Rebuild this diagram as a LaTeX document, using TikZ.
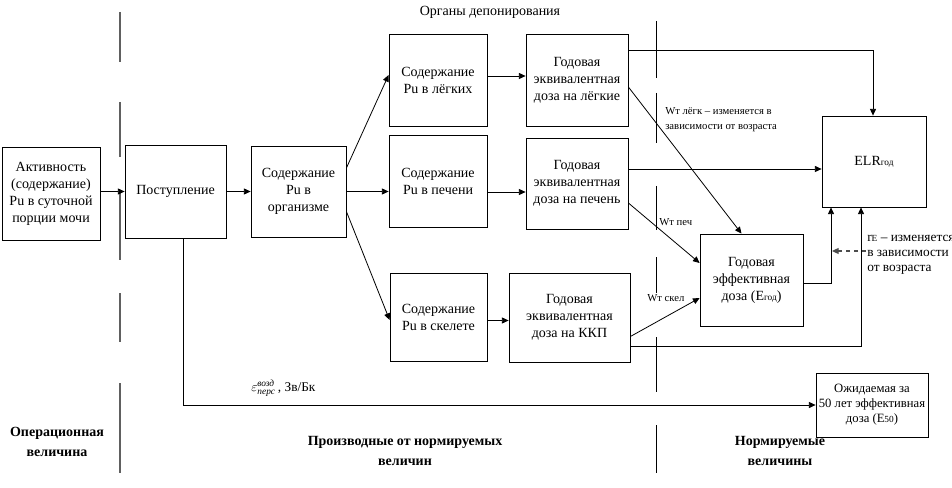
\documentclass[tikz,border=0pt]{standalone}
\usepackage{fontspec}
\setmainfont{Liberation Serif}
\usetikzlibrary{arrows.meta,calc}
\begin{document}
\begin{tikzpicture}[x=0.75pt,y=-0.75pt,
 box/.style={draw, line width=0.6pt, align=center, inner sep=1pt, font=\fontsize{10.5}{12.75}\selectfont},
 conn/.style={line width=0.6pt, -{Triangle[length=5pt,width=4.5pt]}},
 dconn/.style={conn, dashed, gray!60!black, line width=0.9pt},
 sepA/.style={gray!75!black, line width=1.4pt},
 sepB/.style={black, line width=0.6pt},
 lbl/.style={font=\fontsize{10.5}{12.75}\selectfont, align=center, inner sep=0pt},
 smalllbl/.style={font=\fontsize{8}{11.25}\selectfont, align=left, inner sep=0pt},
 midlbl/.style={font=\fontsize{10}{11.25}\selectfont, align=left, inner sep=0pt},
 botlbl/.style={font=\bfseries\fontsize{10.5}{15}\selectfont, align=center, inner sep=0pt}
]
\useasboundingbox (0,0) rectangle (952,488);

% separators
\foreach \a/\b in {12/62,102/157,190/260,293/342,383/473}
  \draw[sepA] (120,\a) -- (120,\b);
\foreach \a/\b in {21/78,93/143,186/230,257/293,337/392,425/473}
  \draw[sepB] (656,\a) -- (656,\b);

% boxes
\node[box, minimum width=73.5pt, minimum height=69.75pt] (act) at (51,193.5) {Активность\\(содержание)\\Pu в суточной\\порции мочи};
\node[box, minimum width=75.75pt, minimum height=69.75pt] (post) at (175.5,191.5) {Поступление};
\node[box, minimum width=71.25pt, minimum height=68.25pt] (org) at (298.5,191.5) {Содержание\\Pu в\\организме};
\node[box, minimum width=73.5pt, minimum height=69pt] (lung) at (438,80) {Содержание\\Pu в лёгких};
\node[box, minimum width=73.5pt, minimum height=69pt] (liver) at (438,181) {Содержание\\Pu в печени};
\node[box, minimum width=72.75pt, minimum height=66pt] (skel) at (438.5,317) {Содержание\\Pu в скелете};
\node[box, minimum width=76.5pt, minimum height=69pt] (glung) at (577,80) {Годовая\\эквивалентная\\доза на лёгкие};
\node[box, minimum width=76.5pt, minimum height=68.25pt] (gliver) at (577,183.5) {Годовая\\эквивалентная\\доза на печень};
\node[box, minimum width=90.75pt, minimum height=66.75pt] (gkkp) at (569.5,317.5) {Годовая\\эквивалентная\\доза на ККП};
\node[box, minimum width=78pt, minimum height=68.25pt] (elr) at (874,161.5) {ELR{\scriptsize год}};
\node[box, minimum width=77.25pt, minimum height=69pt] (eff) at (751.5,280) {Годовая\\эффективная\\доза (E{\scriptsize год})};
\node[box, minimum width=84pt, minimum height=48pt, font=\fontsize{9.5}{11.25}\selectfont] (e50) at (872,405) {Ожидаемая за\\50 лет эффективная\\доза (E{\scriptsize 50})};

% helper points on box sides
\coordinate (lungE) at ($(lung.east)+(0,-4)$);
\coordinate (liverE) at ($(liver.east)+(0,11)$);
\coordinate (skelE) at ($(skel.east)+(0,3.5)$);
\coordinate (gliverE1) at ($(gliver.east)+(0,-14.5)$);

% connectors
\draw[conn] (act.east |- post.west) -- (post.west);
\draw[conn] (post.east) -- (org.west);
\draw[conn] ($(org.east)+(0,-23.5)$) -- ($(lung.west)+(0,-5)$);
\draw[conn] (org.east) -- (org.east -| liver.west);
\draw[conn] ($(org.east)+(0,20)$) -- ($(skel.west)+(0,3)$);
\draw[conn] (lungE) -- (lungE -| glung.west);
\draw[conn] (liverE) -- (liverE -| gliver.west);
\draw[conn] (skelE) -- (skelE -| gkkp.west);
\draw[conn] ($(glung.east)+(0,-30)$) -| ($(elr.north)+(-1,0)$);
\draw[conn] (gliverE1) -- (gliverE1 -| elr.west);
\draw[conn] ($(glung.east)+(0,7)$) -- ($(eff.north)+(-10,0)$);
\draw[conn] ($(gliver.east)+(0,19.5)$) -- ($(eff.west)+(0,-17)$);
\draw[conn] ($(gkkp.east)+(0,19)$) -- ($(eff.west)+(0,18)$);
\draw[conn] ($(gkkp.east)+(0,29)$) -| ($(elr.south)+(-13,0)$);
\draw[conn] ($(eff.east)+(0,3)$) -| ($(elr.south)+(-43,0)$);
\draw[conn] ($(post.south)+(7.5,0)$) |- (e50.west);
\coordinate (rEstart) at (866,251);
\coordinate (rEend) at (832,251);
\draw[dconn] (rEstart) -- (rEend);

% labels
\node[lbl] (organs) at (490,12) {Органы депонирования};
\node[smalllbl, anchor=north west] (wl) at (665,107) {Wт лёгк – изменяется в\\зависимости от возраста};
\node[smalllbl, anchor=west] (wp) at (659,222) {Wт печ};
\node[smalllbl, anchor=west] (ws) at (647,298) {Wт скел};
\node[midlbl, anchor=north west] (rE) at (867,235) {r{\scriptsize E} – изменяется\\в зависимости\\от возраста};
\node[lbl, anchor=base west, font=\fontsize{10}{12}\selectfont] (eps) at (251,391) {$\varepsilon^{\mbox{\fontsize{7}{8}\selectfont\itshape возд}}_{\mbox{\fontsize{7}{8}\selectfont\itshape перс}}$\,, Зв/Бк};
\node[botlbl] (op) at (57,441.5) {Операционная\\величина};
\node[botlbl] (der) at (405,451) {Производные от нормируемых\\величин};
\node[botlbl] (norm) at (780,451) {Нормируемые\\величины};
\end{tikzpicture}
\end{document}
